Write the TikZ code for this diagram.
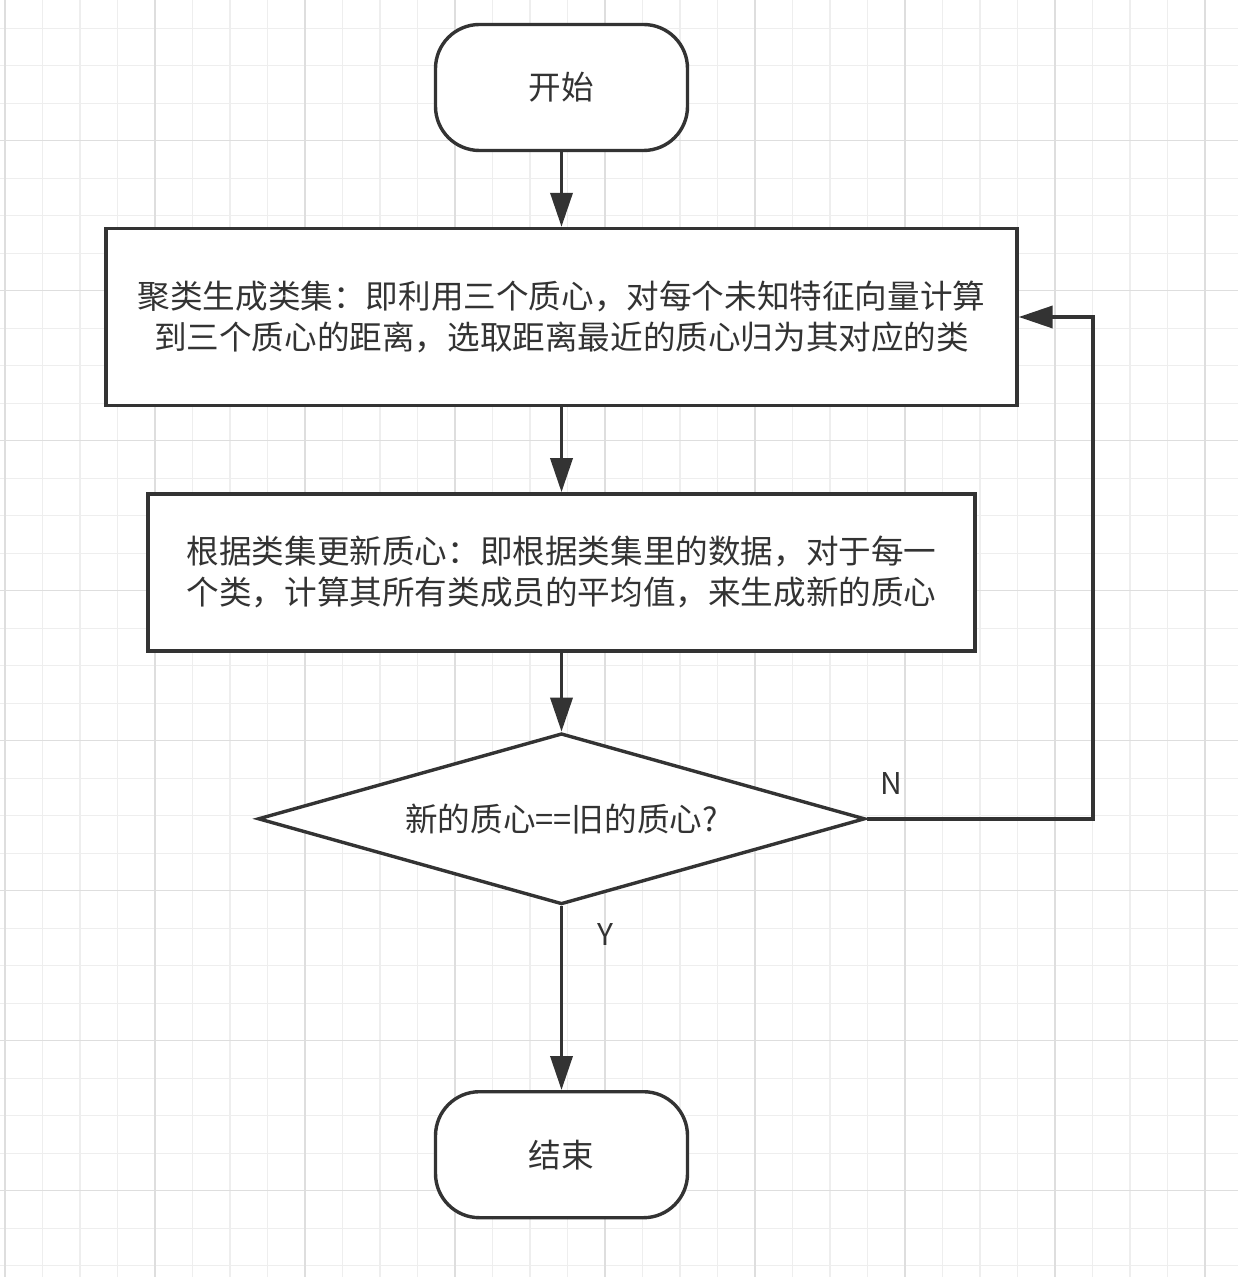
\documentclass[tikz,border=0pt]{standalone}
\usepackage{fontspec}
\setmainfont{Noto Sans CJK SC}
\usetikzlibrary{arrows.meta,positioning,shapes.geometric}
\definecolor{ink}{HTML}{333333}
\definecolor{gridminor}{HTML}{EEEEEE}
\definecolor{gridmajor}{HTML}{DEDEDE}
\tikzset{
  box/.style={draw=ink, line width=1.7pt, fill=white, align=center, inner sep=0pt, text=ink, font=\fontsize{16.3}{20.5}\selectfont},
  termbox/.style={box, rounded corners=22pt, minimum width=126pt, minimum height=63pt},
  procbox/.style={box},
  testbox/.style={box, diamond, aspect=3.5, minimum width=303.5pt, minimum height=85.5pt},
  yn/.style={font=\fontsize{15}{18}\selectfont, text=ink, inner sep=0pt},
  arrow/.style={-{Triangle[length=17pt,width=11pt]}, line width=1.8pt, draw=ink},
  minorline/.style={draw=gridminor, line width=0.6pt},
  majorline/.style={draw=gridmajor, line width=0.6pt}
}

\begin{document}
\begin{tikzpicture}
% page and grid
\fill[white] (0,0) rectangle (619pt,-638.5pt);
\useasboundingbox (0,0) rectangle (619pt,-638.5pt);
\foreach \k in {0,...,32} \draw[minorline] (2.5pt+\k*18.75pt,0pt) -- (2.5pt+\k*18.75pt,-638.5pt);
\foreach \k in {0,...,33} \draw[minorline] (0pt,-14.15pt-\k*18.75pt) -- (619pt,-14.15pt-\k*18.75pt);
\foreach \k in {0,4,...,32} \draw[majorline] (2.5pt+\k*18.75pt,0pt) -- (2.5pt+\k*18.75pt,-638.5pt);
\foreach \k in {3,7,...,31} \draw[majorline] (0pt,-14.15pt-\k*18.75pt) -- (619pt,-14.15pt-\k*18.75pt);

% flow
\node[termbox] (start) at (280.75pt,-43.75pt) {开始};
\node[procbox, below=37.3pt of start, minimum width=455.5pt, minimum height=88.5pt] (clus) {聚类生成类集：即利用三个质心，对每个未知特征向量计算\\到三个质心的距离，选取距离最近的质心归为其对应的类};
\node[procbox, below=42.5pt of clus, minimum width=413.5pt, minimum height=78.5pt] (upd) {根据类集更新质心：即根据类集里的数据，对于每一\\个类，计算其所有类成员的平均值，来生成新的质心};
\node[testbox, below=39.5pt of upd] (chk) {新的质心==旧的质心?};
\node[termbox, below=92pt of chk] (finish) {结束};
\draw[arrow] (start)--(clus); \draw[arrow] (clus)--(upd); \draw[arrow] (upd)--(chk);
\draw[arrow] (chk.south)--(finish.north);
\draw[arrow] (chk.east) -- ++(113pt,0) |- (clus.east);
\node[yn] (nlab) at ([shift={(12.5pt,17.5pt)}]chk.east) {N};
\node[yn] (ylab) at ([shift={(21.75pt,-14pt)}]chk.south) {Y};
\end{tikzpicture}
\end{document}
